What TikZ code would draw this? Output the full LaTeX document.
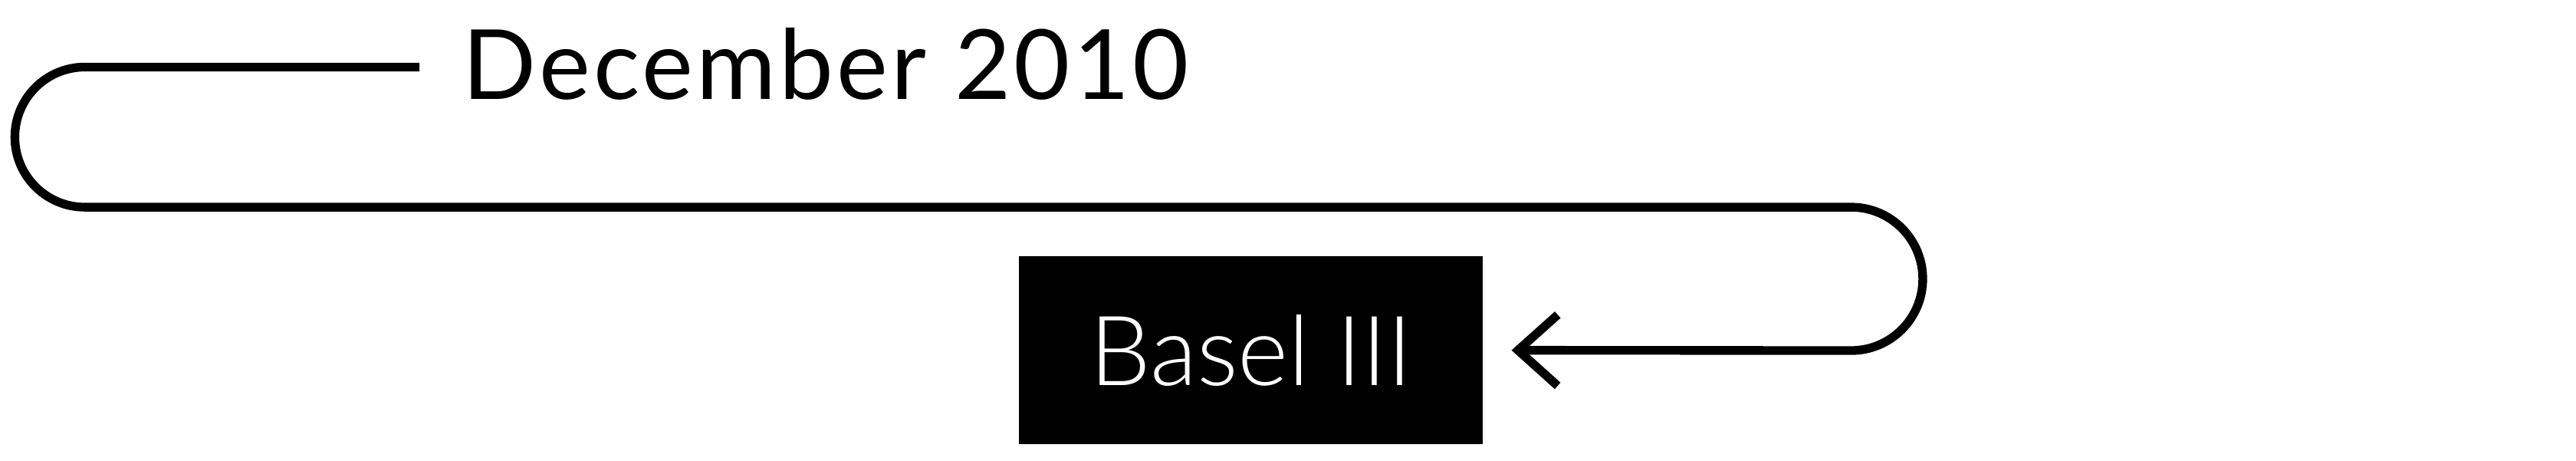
\documentclass[tikz,border=0pt]{standalone}
\usepackage{fontspec}
\setmainfont{Lato}[LetterSpace=3.3]
\newfontfamily\thinfont{Lato}[UprightFont={* Light}]
\usepackage{tikz}
\usetikzlibrary{calc,arrows.meta}

\begin{document}
\begin{tikzpicture}
    \useasboundingbox (0,0) rectangle (31.2,-5.58);

    \tikzstyle{flow} = [line width=3pt, line join=round, -{Straight Barb[length=0.48cm,width=0.86cm,line width=3pt]}]
    \tikzstyle{box} = [fill=black, text=white, minimum width=5.62cm, minimum height=2.28cm, inner sep=0pt, font=\thinfont\fontsize{33.4}{40}\selectfont]

    \node[anchor=base west, inner sep=0pt, font=\fontsize{33.4}{40}\selectfont] (dec) at (5.6,-1.198) {December 2010};
    \node[box] (bsl) at (15.15,-4.24) {Basel III};

    \coordinate (s) at (5.08,-0.812);
    \coordinate (t) at ($(bsl.east)+(0.34,0)$);

    % loop back round to the box
    \draw[flow] (s) -- (1.028,-0.812) arc[start angle=90, end angle=270, radius=0.848]
        -- (22.42,-2.508) arc[start angle=90, end angle=-90, radius=0.868] -- (t);
\end{tikzpicture}
\end{document}
